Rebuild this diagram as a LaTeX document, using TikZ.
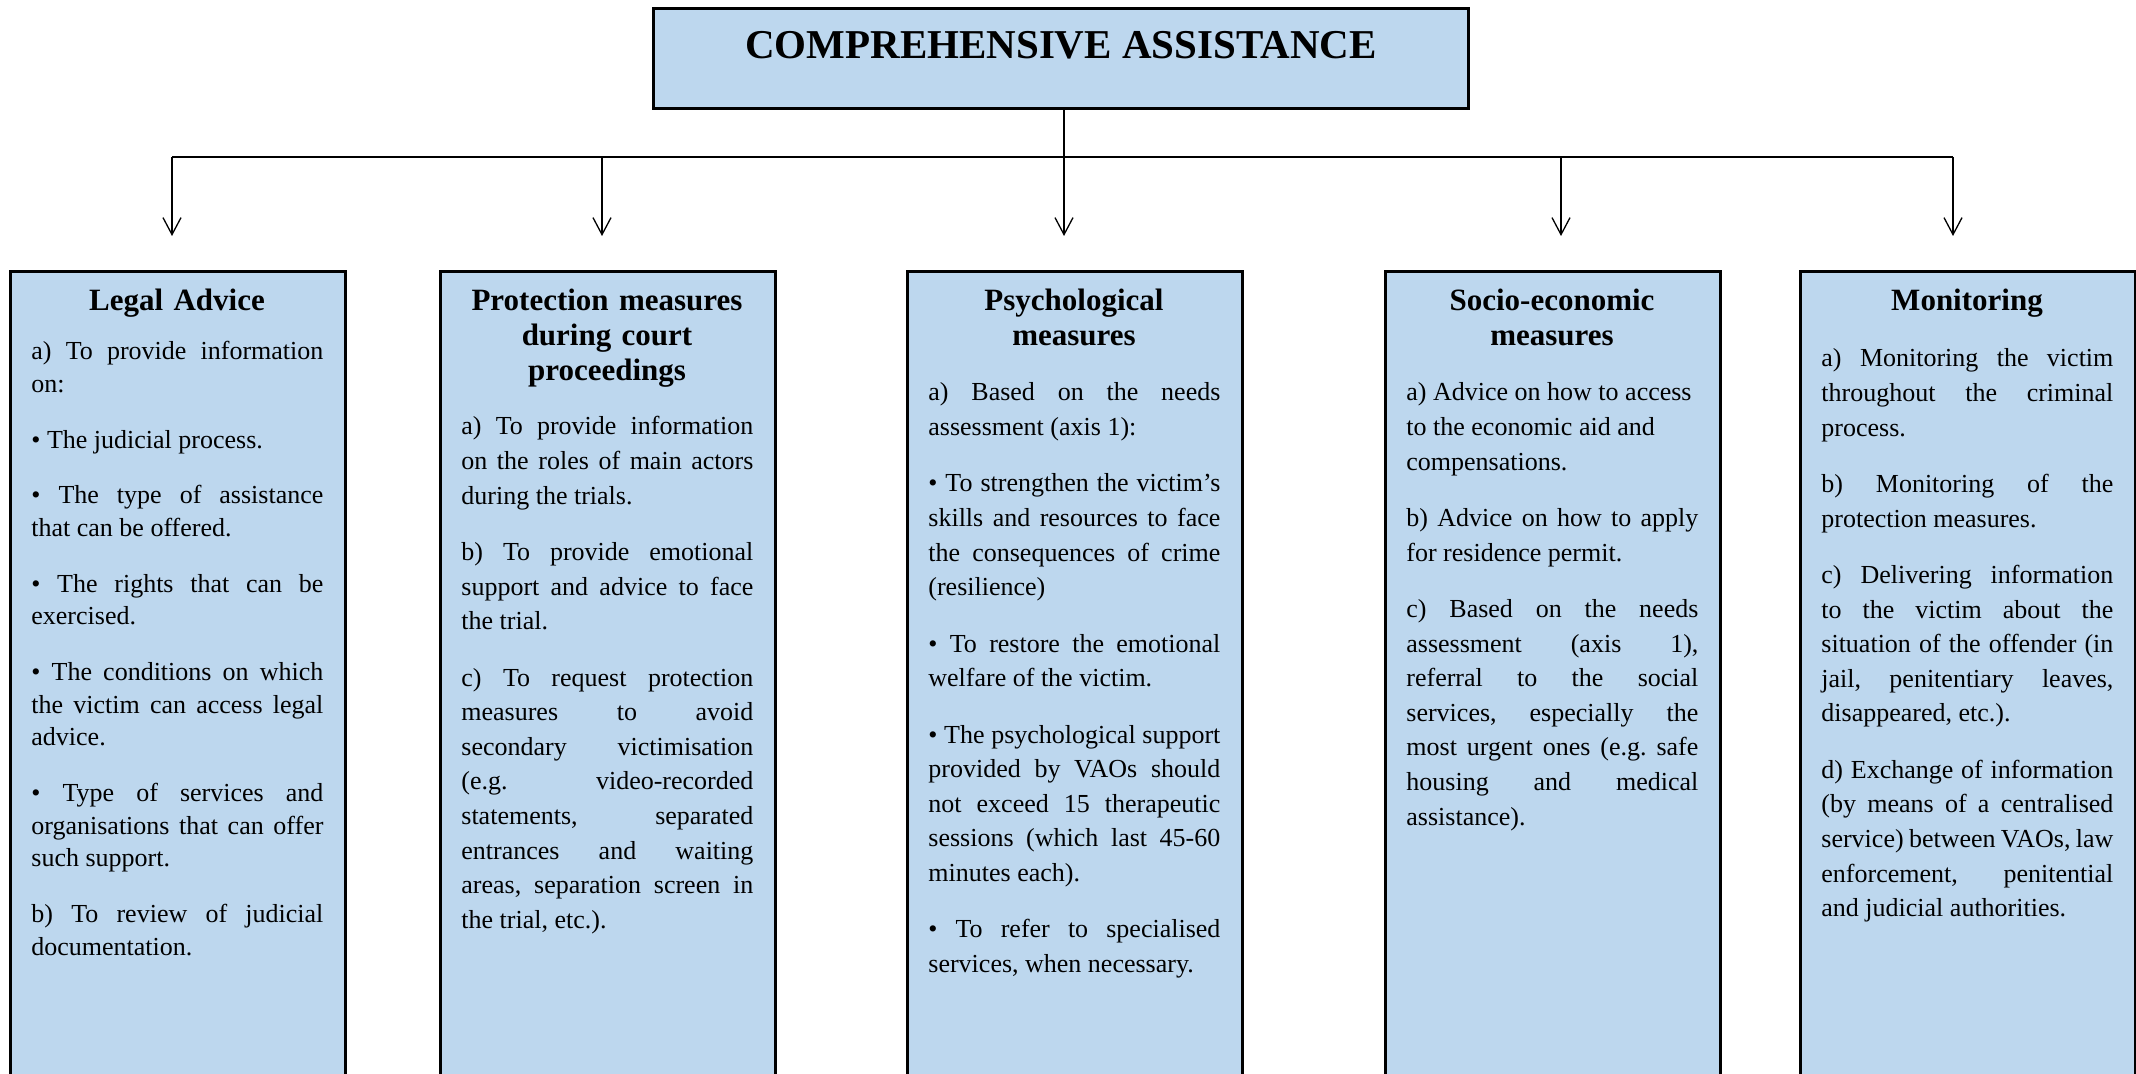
\documentclass[tikz,border=0pt]{standalone}
\usepackage{fontspec}
\setmainfont{Liberation Serif}
\usetikzlibrary{arrows.meta}
\definecolor{boxblue}{HTML}{BDD7EE}
\newlength{\mygap}
\setlength{\mygap}{10.9pt}
\newcommand{\mypar}{\par\vspace{\mygap}}
\tikzset{
  panel/.style={draw=black, line width=1.4pt, fill=boxblue, anchor=north west,
    minimum width=167.5pt, minimum height=405pt, inner sep=0pt},
  headbox/.style={draw=black, line width=1.4pt, fill=boxblue, anchor=north west,
    minimum width=407.5pt, minimum height=50pt, inner sep=0pt,
    text height=9pt, text depth=9pt,
    font=\bfseries\fontsize{20.5}{24}\selectfont},
  ptitle/.style={anchor=base, text width=160pt, align=center, inner sep=0pt,
    font=\bfseries\fontsize{15.5}{17.35}\selectfont},
  gap/.code={\setlength{\mygap}{#1}},
  pbody/.style={anchor=base west, text width=146pt, align=justify, inner sep=0pt,
    font=\fontsize{13}{17.3}\selectfont,
    execute at begin node={\frenchspacing\tolerance=10000\relax
      \hyphenpenalty=10000\relax\exhyphenpenalty=10000\relax}},
  conn/.style={line width=0.65pt, -{Straight Barb[length=8.5pt,width=9pt]}},
  hline/.style={line width=0.65pt}
}
\begin{document}
\begin{tikzpicture}[x=0.5pt,y=-0.5pt]
\useasboundingbox (0,0) rectangle (2136,1074);

% top box
\node[headbox] (top) at (652,7) {COMPREHENSIVE ASSISTANCE};

% panels
\node[panel] (p1) at (9,270) {};
\node[panel] (p2) at (439,270) {};
\node[panel] (p3) at (906,270) {};
\node[panel] (p4) at (1384,270) {};
\node[panel] (p5) at (1799,270) {};

% connectors
\coordinate (j1) at (172,157);
\coordinate (j5) at (1953,157);
\coordinate (e1) at (172,236);
\coordinate (e2) at (602,236);
\coordinate (e3) at (1064,236);
\coordinate (e4) at (1561,236);
\coordinate (e5) at (1953,236);
\draw[hline] (j1) -- (j5);
\draw[conn] (top.south -| e3) -- (e3);
\draw[conn] (j1) -- (e1);
\draw[conn] (j1 -| e2) -- (e2);
\draw[conn] (j1 -| e4) -- (e4);
\draw[conn] (j5) -- (e5);

% titles
\node[ptitle] (t1) at (177,311) {Legal Advice};
\node[ptitle] (t2) at (607,311) {Protection measures\\ during court\\ proceedings};
\node[ptitle] (t3) at (1074,311) {Psychological\\ measures};
\node[ptitle] (t4) at (1552,311) {Socio-economic\\ measures};
\node[ptitle] (t5) at (1967,311) {Monitoring};

% bodies
\node[pbody, font=\fontsize{13}{16.35}\selectfont, gap=11.45pt] (b1) at (31,360) {%
a) To provide information\linebreak on:\mypar
• The judicial process.\mypar
• The type of assistance\linebreak that can be offered.\mypar
• The rights that can be\linebreak exercised.\mypar
• The conditions on which\linebreak the victim can access legal\linebreak advice.\mypar
• Type of services and\linebreak organisations that can offer\linebreak such support.\mypar
b) To review of judicial\linebreak documentation.};

\node[pbody, gap=10.9pt] (b2) at (461,435) {%
a) To provide information\linebreak on the roles of main actors\linebreak during the trials.\mypar
b) To provide emotional\linebreak support and advice to face\linebreak the trial.\mypar
c) To request protection\linebreak measures to avoid\linebreak secondary victimisation\linebreak (e.g. video-recorded\linebreak statements, separated\linebreak entrances and waiting\linebreak areas, separation screen in\linebreak the trial, etc.).};

\node[pbody, gap=10.9pt] (b3) at (928,401) {%
a) Based on the needs\linebreak assessment (axis 1):\mypar
• To strengthen the victim’s\linebreak skills and resources to face\linebreak the consequences of crime\linebreak (resilience)\mypar
• To restore the emotional\linebreak welfare of the victim.\mypar
• The psychological support\linebreak provided by VAOs should\linebreak not exceed 15 therapeutic\linebreak sessions (which last 45-60\linebreak minutes each).\mypar
• To refer to specialised\linebreak services, when necessary.};

\node[pbody, gap=10.9pt] (b4) at (1406,401) {%
a) Advice on how to access\newline to the economic aid and\newline compensations.\mypar
b) Advice on how to apply\linebreak for residence permit.\mypar
c) Based on the needs\linebreak assessment (axis 1),\linebreak referral to the social\linebreak services, especially the\linebreak most urgent ones (e.g. safe\linebreak housing and medical\linebreak assistance).};

\node[pbody, gap=10.9pt] (b5) at (1821,367) {%
a) Monitoring the victim\linebreak throughout the criminal\linebreak process.\mypar
b) Monitoring of the\linebreak protection measures.\mypar
c) Delivering information\linebreak to the victim about the\linebreak situation of the offender (in\linebreak jail, penitentiary leaves,\linebreak disappeared, etc.).\mypar
d) Exchange of information\linebreak (by means of a centralised\linebreak service) between VAOs, law\linebreak enforcement, penitential\linebreak and judicial authorities.};
\end{tikzpicture}
\end{document}
